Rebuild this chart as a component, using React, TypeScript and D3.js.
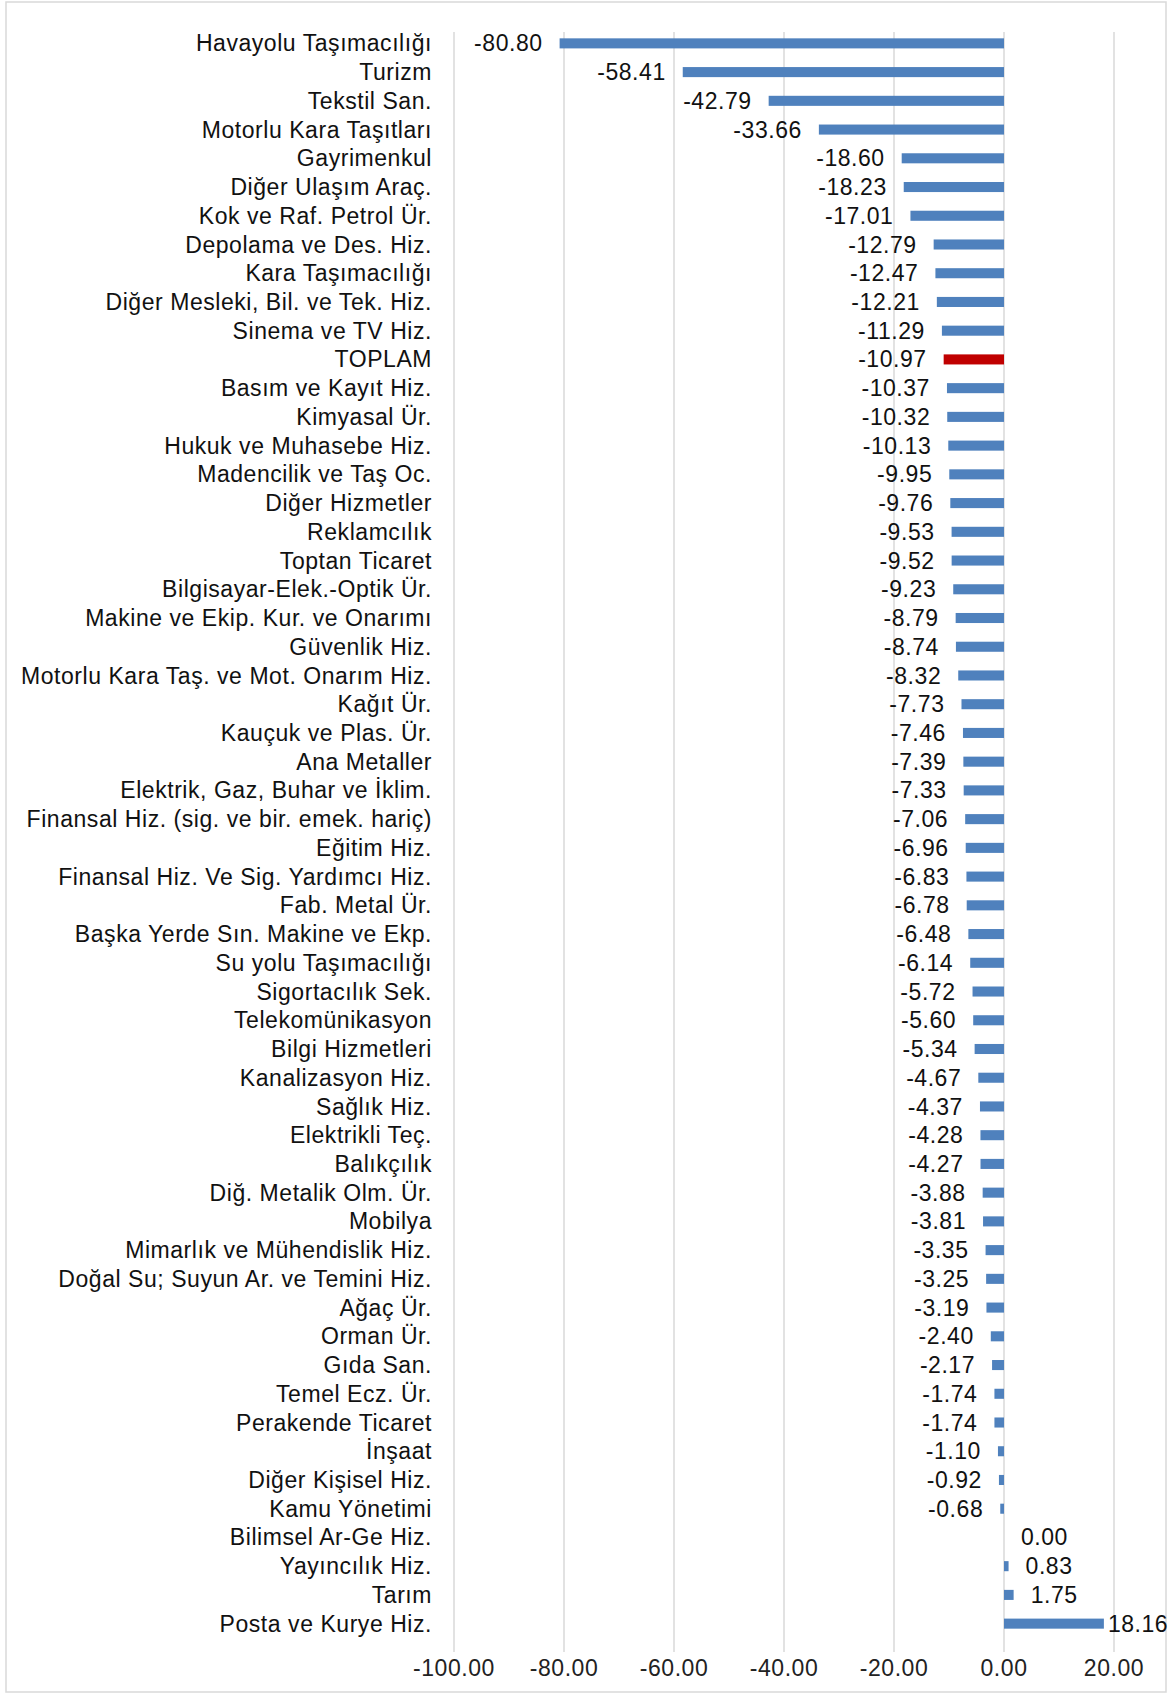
import React from 'react';
import * as d3 from 'd3';

const categories = [
  'Havayolu Taşımacılığı', 'Turizm', 'Tekstil San.', 'Motorlu Kara Taşıtları', 'Gayrimenkul',
  'Diğer Ulaşım Araç.', 'Kok ve Raf. Petrol Ür.', 'Depolama ve Des. Hiz.', 'Kara Taşımacılığı',
  'Diğer Mesleki, Bil. ve Tek. Hiz.', 'Sinema ve TV Hiz.', 'TOPLAM', 'Basım ve Kayıt Hiz.',
  'Kimyasal Ür.', 'Hukuk ve Muhasebe Hiz.', 'Madencilik ve Taş Oc.', 'Diğer Hizmetler',
  'Reklamcılık', 'Toptan Ticaret', 'Bilgisayar-Elek.-Optik Ür.', 'Makine ve Ekip. Kur. ve Onarımı',
  'Güvenlik  Hiz.', 'Motorlu Kara Taş. ve Mot. Onarım Hiz.', 'Kağıt Ür.', 'Kauçuk ve Plas. Ür.',
  'Ana Metaller', 'Elektrik, Gaz, Buhar ve İklim.', 'Finansal Hiz. (sig. ve bir. emek. hariç)',
  'Eğitim Hiz.', 'Finansal Hiz. Ve Sig. Yardımcı Hiz.', 'Fab. Metal Ür.', 'Başka Yerde Sın. Makine ve Ekp.',
  'Su yolu Taşımacılığı', 'Sigortacılık Sek.', 'Telekomünikasyon', 'Bilgi Hizmetleri',
  'Kanalizasyon Hiz.', 'Sağlık Hiz.', 'Elektrikli Teç.', 'Balıkçılık', 'Diğ. Metalik Olm. Ür.',
  'Mobilya', 'Mimarlık ve Mühendislik Hiz.', 'Doğal Su; Suyun Ar. ve Temini Hiz.', 'Ağaç Ür.',
  'Orman Ür.', 'Gıda San.', 'Temel Ecz. Ür.', 'Perakende Ticaret', 'İnşaat', 'Diğer Kişisel Hiz.',
  'Kamu Yönetimi', 'Bilimsel Ar-Ge Hiz.', 'Yayıncılık Hiz.', 'Tarım', 'Posta ve Kurye Hiz.'
];

const values = [
  -80.80, -58.41, -42.79, -33.66, -18.60, -18.23, -17.01, -12.79, -12.47, -12.21, -11.29, -10.97,
  -10.37, -10.32, -10.13, -9.95, -9.76, -9.53, -9.52, -9.23, -8.79, -8.74, -8.32, -7.73, -7.46,
  -7.39, -7.33, -7.06, -6.96, -6.83, -6.78, -6.48, -6.14, -5.72, -5.60, -5.34, -4.67, -4.37,
  -4.28, -4.27, -3.88, -3.81, -3.35, -3.25, -3.19, -2.40, -2.17, -1.74, -1.74, -1.10, -0.92,
  -0.68, 0.00, 0.83, 1.75, 18.16
];

const ticks = [-100, -80, -60, -40, -20, 0, 20];
const highlight = 'TOPLAM';

const W = 1171;
const H = 1696;
const fontSize = 23;
const spacing = 0.55;
const font = '"Liberation Sans", Arial, sans-serif';

const App = () => {
  const left = 454;
  const right = 1114;
  const gridTop = 32;
  const gridBottom = 1652;

  const x = d3.scaleLinear().domain([-100, 20]).range([left, right]);
  const y = d3.scaleBand<string>()
    .domain(categories)
    .range([29, 1638])
    .paddingInner(0.65)
    .paddingOuter(0.325);

  const rows = categories.map((c, i) => ({ name: c, value: values[i] }));

  return (
    <svg width={W} height={H} style={{ position: 'absolute', left: 0, top: 0, background: '#fff' }}
      fontFamily={font} letterSpacing={spacing}>
      <rect x={6} y={2} width={W - 11} height={H - 6} fill="#fff" stroke="#d9d9d9" strokeWidth={1.5} />
      {ticks.map(t => (
        <g key={t}>
          <line x1={x(t)} x2={x(t)} y1={gridTop} y2={gridBottom} stroke="#d9d9d9" strokeWidth={1.5} />
          <text x={x(t)} y={1668} dy="0.35em" textAnchor="middle" fontSize={fontSize} fill="#222">
            {t.toFixed(2)}
          </text>
        </g>
      ))}
      {rows.map(d => {
        const yc = y(d.name)! + y.bandwidth() / 2;
        const x0 = x(Math.min(0, d.value));
        const x1 = x(Math.max(0, d.value));
        const label = d.value.toFixed(2);
        let lx = d.value < 0 ? x(d.value) - 17 : x(d.value) + 17;
        const estW = label.length * (0.53 * fontSize + spacing);
        // label would run past the frame: tuck it right against the bar end
        if (d.value >= 0 && lx + estW > W - 6) lx = x(d.value) + 4;
        return (
          <g key={d.name}>
            <text x={left - 22} y={yc} dy="0.35em" textAnchor="end" fontSize={fontSize} fill="#111">
              {d.name}
            </text>
            {d.value !== 0 && (
              <rect x={x0} y={y(d.name)} width={Math.max(1.5, x1 - x0)} height={y.bandwidth()}
                fill={d.name === highlight ? '#c00000' : '#4f81bd'} />
            )}
            <text x={lx} y={yc} dy="0.35em" textAnchor={d.value < 0 ? 'end' : 'start'}
              fontSize={fontSize} fill="#111">
              {label}
            </text>
          </g>
        );
      })}
    </svg>
  );
};

export default App;
